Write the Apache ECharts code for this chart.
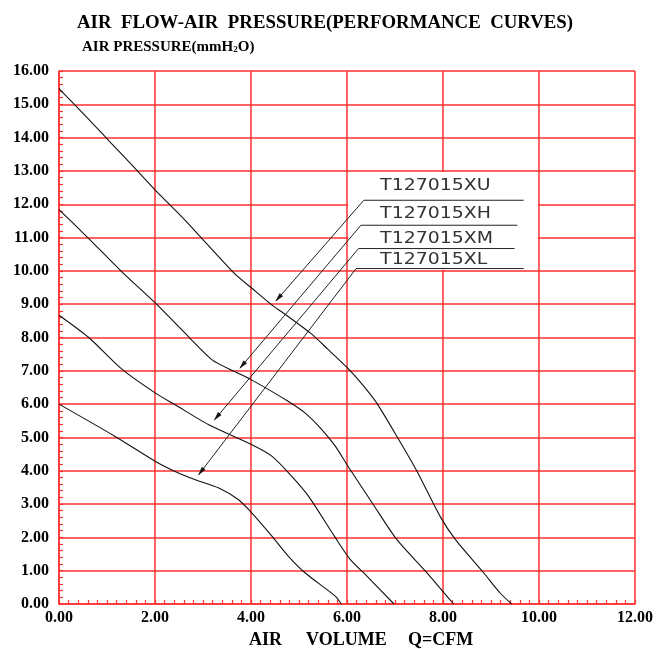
<!DOCTYPE html>
<html>
<head>
<meta charset="utf-8">
<script src="https://cdn.jsdelivr.net/npm/echarts@6/dist/echarts.min.js"></script>
<style>
html,body{margin:0;padding:0;background:#fff;}
#c{width:657px;height:649px;}
</style>
</head>
<body>
<div id="c"></div>
<script>
// ---- data ----
const uX = [0, 0.62, 1.03, 1.59, 2.01, 2.56, 2.98, 3.67, 4.0, 4.44, 4.68, 5.24, 5.6, 6.0, 6.3, 6.62, 7.08, 7.46, 7.94, 8.26, 8.85, 9.19, 9.43];
const uY = [15.47, 14.55, 13.92, 13.07, 12.42, 11.62, 10.97, 9.9, 9.5, 8.97, 8.73, 8.13, 7.65, 7.1, 6.62, 6.03, 4.93, 3.98, 2.63, 1.93, 0.93, 0.33, 0];
const hX = [0, 0.62, 1.31, 2.01, 2.7, 3.19, 3.67, 4.02, 4.78, 5.13, 5.48, 5.76, 6.0, 6.55, 7.04, 7.67, 8.22];
const hY = [11.84, 10.97, 9.97, 9.03, 8.02, 7.33, 6.97, 6.72, 6.08, 5.73, 5.23, 4.73, 4.18, 2.98, 1.93, 0.93, 0];
const mX = [0, 0.62, 1.31, 2.01, 2.42, 3.12, 4.02, 4.44, 4.85, 5.2, 5.74, 6.07, 6.42, 6.98];
const mY = [8.67, 8.0, 7.05, 6.33, 5.98, 5.38, 4.78, 4.43, 3.83, 3.23, 2.03, 1.33, 0.83, 0];
const lX = [0, 1.17, 2.01, 2.42, 2.84, 3.33, 3.74, 4.02, 4.44, 4.78, 5.13, 5.76, 5.88];
const lY = [6.0, 5.03, 4.28, 3.98, 3.73, 3.48, 3.13, 2.73, 2.03, 1.43, 0.93, 0.23, 0];

const labelNames = ['T127015XU', 'T127015XH', 'T127015XM', 'T127015XL'];
const labelX = [6.69, 6.69, 6.69, 6.69];
const labelY = [12.54, 11.72, 10.97, 10.34];
const underlineY = [12.12, 11.37, 10.67, 10.07];
const underlineStartX = [6.35, 6.29, 6.24, 6.19];
const underlineEndX = [9.68, 9.55, 9.49, 9.68];
const arrowTipX = [4.52, 3.77, 3.24, 2.91];
const arrowTipY = [9.1, 7.08, 5.53, 3.88];

const blankBoxX = [6, 10];
const blankBoxY = [10, 13];

const xMin = 0, xMax = 12, xStep = 2;
const yMin = 0, yMax = 16, yStep = 1;

const titleText = 'AIR  FLOW-AIR  PRESSURE(PERFORMANCE  CURVES)';
const yTitle = ['AIR PRESSURE(mmH', '2', 'O)'];
const xTitleWords = ['AIR', 'VOLUME', 'Q=CFM'];

// ---- chart ----
const zip = (a, b) => a.map((v, i) => [v, b[i]]);
const RED = '#ff3030';
const chart = echarts.init(document.getElementById('c'), null, {renderer: 'canvas'});

const curveStyle = {color: '#111', width: 1.1};
function curve(name, xs, ys) {
  return {
    name: name, type: 'line', data: zip(xs, ys), showSymbol: false, symbol: 'none',
    smooth: 0.25, lineStyle: curveStyle, z: 3, silent: true
  };
}

const serif = '"Liberation Serif", "Times New Roman", serif';

const option = {
  animation: false,
  backgroundColor: '#fff',
  grid: {left: 59, right: 22, top: 71, bottom: 45, containLabel: false},
  xAxis: {
    type: 'value', min: xMin, max: xMax, interval: xStep,
    axisLine: {show: true, lineStyle: {color: RED, width: 1.5}},
    axisTick: {show: true, inside: true, length: 4, lineStyle: {color: RED, width: 1.2}},
    minorTick: {show: true, splitNumber: 10, length: 4, lineStyle: {color: RED, width: 1.2}},
    splitLine: {show: true, lineStyle: {color: RED, width: 1.5}},
    axisLabel: {color: '#000', fontFamily: serif, fontWeight: 'bold', fontSize: 16, margin: 6, formatter: v => v.toFixed(2)}
  },
  yAxis: {
    type: 'value', min: yMin, max: yMax, interval: yStep,
    axisLine: {show: true, lineStyle: {color: RED, width: 1.5}},
    axisTick: {show: true, inside: true, length: 4, lineStyle: {color: RED, width: 1.2}},
    minorTick: {show: true, splitNumber: 5, length: 4, lineStyle: {color: RED, width: 1.2}},
    splitLine: {show: true, lineStyle: {color: RED, width: 1.5}},
    axisLabel: {color: '#000', fontFamily: serif, fontWeight: 'bold', fontSize: 16, margin: 10, formatter: v => v.toFixed(2)}
  },
  graphic: [
    {type: 'text', x: 77, y: 23, scaleX: 1.045, style: {text: titleText, font: 'bold 18px ' + serif, fill: '#000', verticalAlign: 'middle', textVerticalAlign: 'middle'}},
    {type: 'text', x: 82, y: 47, style: {
      text: '{a|' + yTitle[0] + '}{s|' + yTitle[1] + '}{a|' + yTitle[2] + '}',
      verticalAlign: 'middle', textVerticalAlign: 'middle',
      rich: {a: {fontFamily: serif, fontWeight: 'bold', fontSize: 15, color: '#000'},
             s: {fontFamily: serif, fontWeight: 'bold', fontSize: 9, color: '#000', padding: [6, 0, 0, 0]}}
    }},
    {type: 'text', x: 249, y: 640, style: {text: xTitleWords[0], font: 'bold 18px ' + serif, fill: '#000', verticalAlign: 'middle', textVerticalAlign: 'middle'}},
    {type: 'text', x: 306, y: 640, style: {text: xTitleWords[1], font: 'bold 18px ' + serif, fill: '#000', verticalAlign: 'middle', textVerticalAlign: 'middle'}},
    {type: 'text', x: 408, y: 640, style: {text: xTitleWords[2], font: 'bold 18px ' + serif, fill: '#000', verticalAlign: 'middle', textVerticalAlign: 'middle'}}
  ],
  series: [
    {
      type: 'line', data: [], z: 2, silent: true,
      markArea: {
        silent: true, itemStyle: {color: '#fff', opacity: 1},
        data: [[{coord: [blankBoxX[0] + 0.025, blankBoxY[1] - 0.035]}, {coord: [blankBoxX[1] - 0.025, blankBoxY[0] + 0.035]}]]
      }
    },
    curve('T127015XU', uX, uY),
    curve('T127015XH', hX, hY),
    curve('T127015XM', mX, mY),
    curve('T127015XL', lX, lY),
    {
      type: 'custom', coordinateSystem: 'cartesian2d', z: 5, silent: true, clip: false,
      data: labelNames.map((n, i) => [labelX[i], labelY[i]]),
      renderItem: function (params, api) {
        const i = params.dataIndex;
        const t = api.coord([labelX[i], labelY[i]]);
        const e = api.coord([underlineEndX[i], underlineY[i]]);
        const s = api.coord([underlineStartX[i], underlineY[i]]);
        const tip = api.coord([arrowTipX[i], arrowTipY[i]]);
        let dx = tip[0] - s[0], dy = tip[1] - s[1];
        const len = Math.sqrt(dx * dx + dy * dy); dx /= len; dy /= len;
        const L = 8, W = 2;
        const bx = tip[0] - dx * L, by = tip[1] - dy * L;
        return {
          type: 'group',
          children: [
            {type: 'polyline', shape: {points: [e, s, tip]}, style: {stroke: '#222', lineWidth: 1, fill: null}},
            {type: 'polygon', shape: {points: [tip, [bx - dy * W, by + dx * W], [bx + dy * W, by - dx * W]]}, style: {fill: '#111', stroke: '#111', lineWidth: 0.5}},
            {type: 'text', x: t[0], y: t[1], scaleX: 1.18,
             style: {text: labelNames[i], font: '16px "DejaVu Sans"', fill: '#333', verticalAlign: 'middle', textVerticalAlign: 'middle'}}
          ]
        };
      }
    }
  ]
};
chart.setOption(option);
</script>
</body>
</html>
